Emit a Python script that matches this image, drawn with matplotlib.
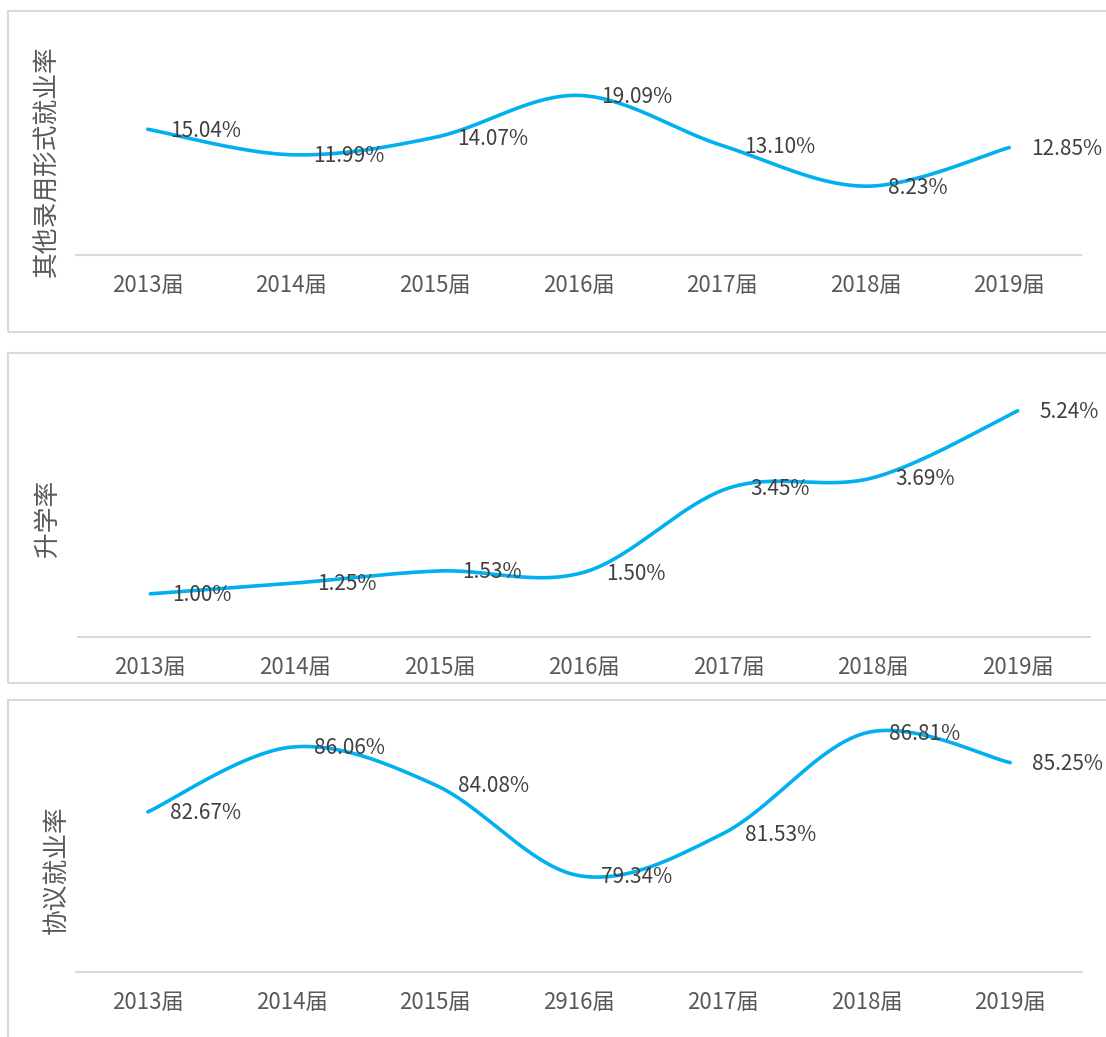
import numpy as np
import matplotlib
matplotlib.use('Agg')
import matplotlib.pyplot as plt
from matplotlib.patches import Rectangle

plt.rcParams['font.family'] = ['Noto Sans CJK SC', 'DejaVu Sans']

# 数据
cats_1 = ['2013届', '2014届', '2015届', '2016届', '2017届', '2018届', '2019届']
cats_3 = ['2013届', '2014届', '2015届', '2916届', '2017届', '2018届', '2019届']
other_rate = [15.04, 11.99, 14.07, 19.09, 13.10, 8.23, 12.85]
further_rate = [1.00, 1.25, 1.53, 1.50, 3.45, 3.69, 5.24]
contract_rate = [82.67, 86.06, 84.08, 79.34, 81.53, 86.81, 85.25]

W, H = 1106, 1037
LINE = '#00B0F0'
GRID = '#D9D9D9'
TICK = '#595959'
LABEL = '#404040'


# Excel 风格的平滑曲线 (Bezier, 控制点取相邻点差的 1/6)
def smooth(xs, ys, n=40):
    p = np.column_stack([xs, ys]).astype(float)
    ext = np.vstack([p[0], p, p[-1]])
    out = []
    for i in range(len(p) - 1):
        p0, p1, p2, p3 = ext[i], ext[i + 1], ext[i + 2], ext[i + 3]
        c1 = p1 + (p2 - p0) / 6
        c2 = p2 - (p3 - p1) / 6
        t = np.linspace(0, 1, n)[:, None]
        seg = (1 - t) ** 3 * p1 + 3 * (1 - t) ** 2 * t * c1 + 3 * (1 - t) * t ** 2 * c2 + t ** 3 * p2
        out.append(seg if i == 0 else seg[1:])
    out = np.vstack(out)
    return out[:, 0], out[:, 1]


def box(fig, x0, y0, x1, y1):
    r = Rectangle((x0 / W, 1 - y1 / H), (x1 - x0) / W, (y1 - y0) / H,
                  transform=fig.transFigure, fill=False, edgecolor=GRID, lw=1.5)
    fig.patches.append(r)


def panel(fig, rect, cats, vals, ylim, ylabel, lab_xy):
    l, r, t, b = rect
    ax = fig.add_axes([l / W, 1 - b / H, (r - l) / W, (b - t) / H])
    x = np.arange(len(vals))
    sx, sy = smooth(x, vals)
    ax.plot(sx, sy, color=LINE, lw=2.6, solid_capstyle='round')
    for xi, v in zip(x, vals):
        ax.annotate('%.2f%%' % v, (xi, v), xytext=(16, -1), textcoords='offset points',
                    ha='left', va='center', fontsize=15, color=LABEL, fontweight='light')
    ax.set_xlim(-0.5, len(vals) - 0.5)
    ax.set_ylim(*ylim)
    ax.set_xticks(x)
    ax.set_xticklabels(cats, fontsize=16, color=TICK, fontweight='light')
    ax.set_yticks([])
    ax.tick_params(axis='x', length=0, pad=14)
    for s in ['top', 'right', 'left']:
        ax.spines[s].set_visible(False)
    ax.spines['bottom'].set_color(GRID)
    ax.spines['bottom'].set_linewidth(1.5)
    ax.patch.set_alpha(0)
    fig.text(lab_xy[0] / W, 1 - lab_xy[1] / H, ylabel, rotation=90, ha='center', va='center',
             fontsize=18.5, color=TICK, fontweight='light')
    return ax


fig = plt.figure(figsize=(W / 100, H / 100), dpi=100)

box(fig, 8, 11, 1120, 332)
box(fig, 8, 353, 1120, 683)
box(fig, 8, 700, 1120, 1050)

panel(fig, (76, 1081, 46, 255), cats_1, other_rate, (0, 25), '其他录用形式就业率', (48, 161))
panel(fig, (78, 1090, 378, 637), cats_1, further_rate, (0, 6), '升学率', (48, 518))
panel(fig, (76, 1082, 710, 972), cats_3, contract_rate, (74.3, 88), '协议就业率', (57, 870))

fig.savefig('out.png', dpi=100)
print('OK')
